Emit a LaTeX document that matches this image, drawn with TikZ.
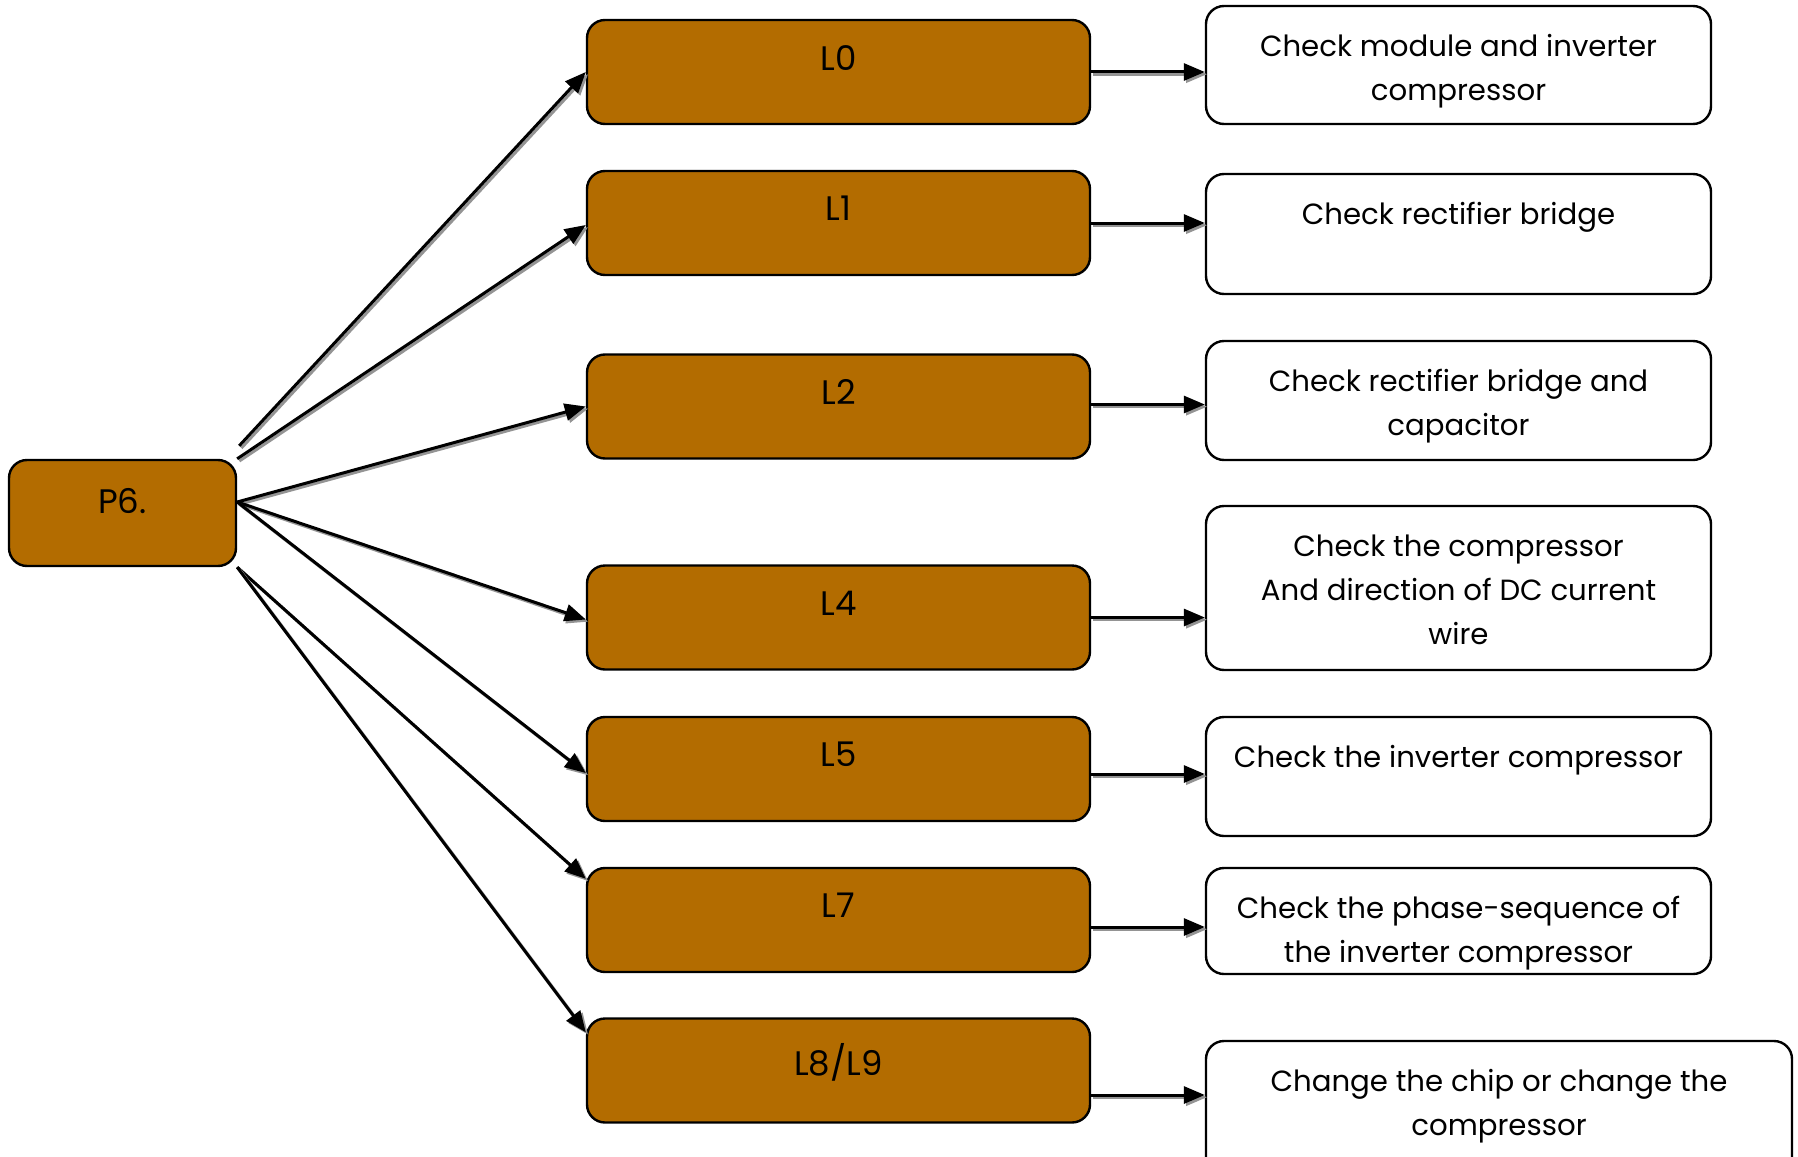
\documentclass[tikz,border=0pt]{standalone}
\usepackage{fontspec}
\setmainfont{Poppins}
\usetikzlibrary{arrows.meta}
\definecolor{boxbrown}{RGB}{179,108,0}
\begin{document}
\begin{tikzpicture}[x=0.5pt,y=-0.5pt,
  font=\fontsize{14.6}{22}\selectfont,
  brownbox/.style={draw=black, line width=1.2pt, fill=boxbrown, rounded corners=9pt, inner sep=0pt},
  whitebox/.style={draw=black, line width=1.2pt, fill=white, rounded corners=9pt, inner sep=0pt, minimum width=252.5pt},
  lbox/.style={brownbox, minimum width=251.5pt, minimum height=52pt},
  lbl/.style={anchor=north, yshift=-14.7pt, inner sep=0pt, align=center},
  blbl/.style={anchor=north, yshift=-13pt, inner sep=0pt, font=\fontsize{17}{20}\selectfont},
  conn/.style={line width=1.5pt, -{Triangle[length=10.5pt,width=8.5pt]},
    preaction={draw=black!42, line width=1.5pt, -{Triangle[length=10.5pt,width=8.5pt]},
      transform canvas={xshift=1.1pt,yshift=-1.1pt}}}
]
\clip (0,0) rectangle (1798,1156);
\fill[white] (0,0) rectangle (1798,1156);

% source
\node[brownbox, minimum width=113.5pt, minimum height=53pt, label={[blbl,yshift=-1.5pt]north:P6.}] (P6) at (122.5,513) {};

% middle column
\node[lbox, label={[blbl]north:L0}] (L0) at (838.5,72) {};
\node[lbox, label={[blbl]north:L1}] (L1) at (838.5,223) {};
\node[lbox, label={[blbl]north:L2}] (L2) at (838.5,406.5) {};
\node[lbox, label={[blbl]north:L4}] (L4) at (838.5,617.5) {};
\node[lbox, label={[blbl]north:L5}] (L5) at (838.5,769) {};
\node[lbox, label={[blbl]north:L7}] (L7) at (838.5,920) {};
\node[lbox, label={[blbl]north:L8/L9}] (L8) at (838.5,1070.5) {};

% right column
\node[whitebox, minimum height=59pt, label={[lbl]north:Check module and inverter\\compressor}] (R0) at (1458.5,65) {};
\node[whitebox, minimum height=60pt, label={[lbl]north:Check rectifier bridge}] (R1) at (1458.5,234) {};
\node[whitebox, minimum height=59.5pt, label={[lbl]north:Check rectifier bridge and\\capacitor}] (R2) at (1458.5,400.5) {};
\node[whitebox, minimum height=82pt, label={[lbl]north:Check the compressor\\And direction of DC current\\wire}] (R4) at (1458.5,588) {};
\node[whitebox, minimum height=59.5pt, label={[lbl]north:Check the inverter compressor}] (R5) at (1458.5,776.5) {};
\node[whitebox, minimum height=53pt, label={[lbl]north:Check the phase-sequence of\\the inverter compressor}] (R7) at (1458.5,921) {};
\node[whitebox, minimum width=293pt, minimum height=70pt, label={[lbl]north:Change the chip or change the\\compressor}] (R8) at (1499,1111) {};

% fan-out connectors
\draw[conn] ([xshift=1pt,yshift=6.5pt]P6.north east) -- (L0.west);
\draw[conn] (P6.north east) -- ([yshift=-1pt]L1.west);
\draw[conn] ([yshift=5.5pt]P6.east) -- (L2.west);
\draw[conn] ([yshift=5.5pt]P6.east) -- ([yshift=-1pt]L4.west);
\draw[conn] ([yshift=5.5pt]P6.east) -- ([yshift=-2pt]L5.west);
\draw[conn] (P6.south east) -- ([yshift=-6pt]L7.north west);
\draw[conn] (P6.south east) -- ([yshift=-7.5pt]L8.north west);

% result connectors
\draw[conn] (L0.east) -- (L0.east -| R0.west);
\draw[conn] (L1.east) -- (L1.east -| R1.west);
\draw[conn] ([yshift=1pt]L2.east) -- ([yshift=1pt]L2.east -| R2.west);
\draw[conn] (L4.east) -- (L4.east -| R4.west);
\draw[conn] ([yshift=-2.5pt]L5.east) -- ([yshift=-2.5pt]L5.east -| R5.west);
\draw[conn] ([yshift=-3.5pt]L7.east) -- ([yshift=-3.5pt]L7.east -| R7.west);
\draw[conn] ([yshift=-12.25pt]L8.east) -- ([yshift=-12.25pt]L8.east -| R8.west);
\end{tikzpicture}
\end{document}
